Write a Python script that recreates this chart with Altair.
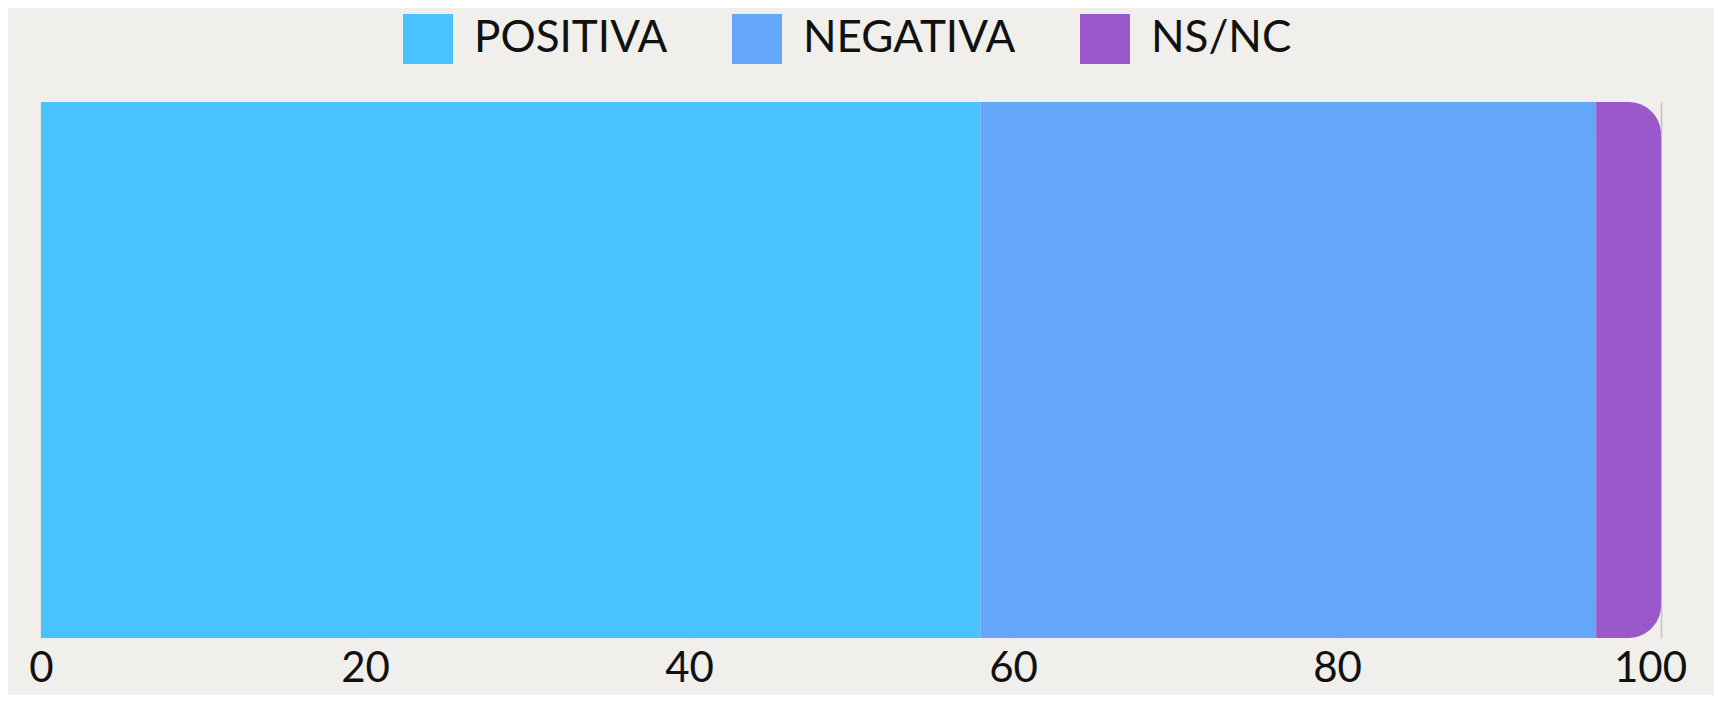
import altair as alt
import pandas as pd

categories = ["POSITIVA", "NEGATIVA", "NS/NC"]
values = [58, 38, 4]
order = [0, 1, 2]
colors = ["#48c3ff", "#64a7fa", "#9b58cb"]
tick_values = [0, 20, 40, 60, 80, 100]

df = pd.DataFrame({"row": ["total"] * 3, "category": categories, "value": values, "order": order})

color = alt.Color(
    "category:N",
    scale=alt.Scale(domain=categories, range=colors),
    legend=alt.Legend(
        title=None,
        orient="none",
        direction="horizontal",
        legendX=362,
        legendY=-88,
        symbolType="square",
        symbolSize=2500,
        symbolStrokeWidth=0,
        labelFont="Lato",
        labelFontSize=44,
        labelColor="#111111",
        labelOffset=21,
        labelLimit=600,
        columnPadding=64,
    ),
)

x = alt.X(
    "x0:Q",
    scale=alt.Scale(domain=[0, 100], nice=False),
    axis=alt.Axis(
        values=tick_values,
        title=None,
        grid=True,
        gridColor="#c2c2c2",
        gridWidth=1.5,
        domain=False,
        ticks=False,
        labelFlush=False,
        labelFont="Lato",
        labelFontSize=42,
        labelColor="#111111",
        labelPadding=10,
        labelOffset={"condition": {"test": "datum.value == 100", "value": -11}, "value": 0},
    ),
)
y = alt.Y("row:N", axis=None, scale=alt.Scale(paddingInner=0, paddingOuter=0))

base = alt.Chart(df).transform_stack(
    stack="value", groupby=["row"], as_=["x0", "x1"], sort=[alt.SortField("order")]
)

main = base.transform_filter(alt.datum.category != "NS/NC").mark_bar().encode(
    x=x, x2="x1:Q", y=y, color=color
)
end = base.transform_filter(alt.datum.category == "NS/NC").mark_bar(
    cornerRadiusTopRight=38, cornerRadiusBottomRight=38
).encode(x=x, x2="x1:Q", y=y, color=color)

chart = alt.layer(main, end).properties(
    width=1620,
    height=536,
    background="#f0efeb",
    padding={"left": 33, "top": 94, "right": 53, "bottom": 57},
    autosize=alt.AutoSizeParams(type="none"),
).configure_view(stroke=None)

chart.save("out.html", embed_options={"renderer": "svg", "actions": False})
